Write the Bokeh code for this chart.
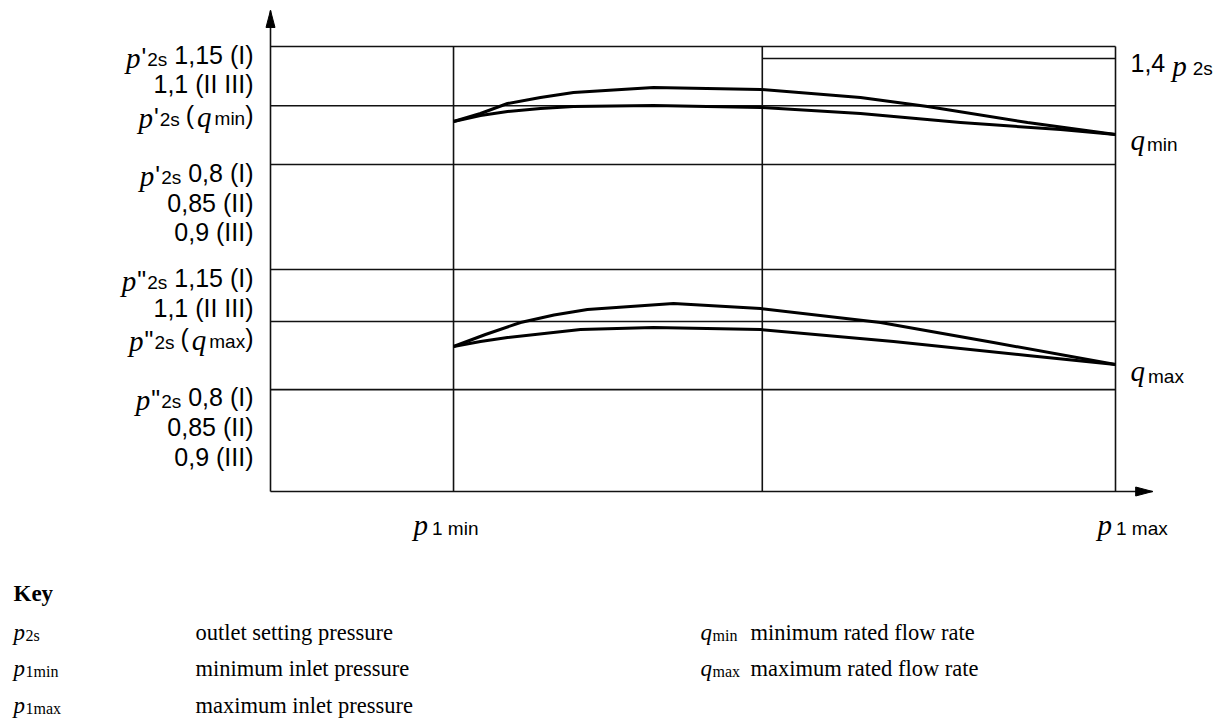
from bokeh.plotting import figure
from bokeh.models import Range1d
from bokeh.core.properties import value
from bokeh.embed import file_html
from bokeh.resources import INLINE

# ---------------- data (x: % of inlet-pressure span, y: relative outlet-pressure units) ----
p1_marks = [21.66, 58.2, 100.0]          # p1min, intermediate, p1max
axis_x_end = 104.4
axis_y_end = 108.1

level_names = ["p'2s 1,15", "1,4 p2s", "p'2s(qmin)", "p'2s 0,8", "p''2s 1,15", "p''2s(qmax)", "p''2s 0,8"]
level_values = [100.0, 97.3, 86.7, 73.5, 49.9, 38.2, 22.9]

qmin_upper_x = [21.66, 24.85, 28.05, 31.95, 35.86, 45.33, 57.99, 69.82, 77.75, 89.59, 100.0]
qmin_upper_y = [83.15, 84.95, 87.19, 88.54, 89.66, 90.79, 90.34, 88.54, 86.52, 82.92, 80.22]
qmin_lower_x = [21.66, 24.85, 28.05, 31.95, 35.86, 45.33, 57.99, 69.82, 81.66, 93.49, 100.0]
qmin_lower_y = [83.15, 84.49, 85.39, 86.07, 86.52, 86.74, 86.29, 84.94, 82.92, 81.35, 80.22]

qmax_upper_x = [21.66, 25.44, 29.59, 33.55, 37.51, 47.69, 57.99, 72.19, 85.56, 100.0]
qmax_upper_y = [32.58, 35.28, 37.98, 39.66, 40.90, 42.25, 41.12, 37.98, 33.48, 28.54]
qmax_lower_x = [21.66, 24.85, 28.05, 36.69, 45.33, 57.99, 73.73, 89.59, 100.0]
qmax_lower_y = [32.58, 33.71, 34.61, 36.40, 36.85, 36.40, 33.71, 30.56, 28.54]

# ---------------- layout ----------------
W, H = 1220, 722
X0, XS = 270.0, 8.45     # px of data x=0, px per unit
Y0, YS = 491.0, 4.45     # px of data y=0, px per unit


def px2x(px):
    return (px - X0) / XS


def py2y(py):
    return (Y0 - py) / YS


p = figure(width=W, height=H, output_backend="svg", toolbar_location=None,
           x_range=Range1d(px2x(0), px2x(W)), y_range=Range1d(py2y(H), py2y(0)),
           min_border=0, min_border_left=0, min_border_right=0,
           min_border_top=0, min_border_bottom=0)
p.axis.visible = False
p.grid.visible = False
p.outline_line_color = None
p.background_fill_color = "white"
p.border_fill_color = "white"

LC = "#111111"
# horizontal levels
for name, yv in zip(level_names, level_values):
    xs = p1_marks[1] if name == "1,4 p2s" else 0.0
    p.line([xs, p1_marks[2]], [yv, yv], line_color=LC, line_width=1.6)
# vertical lines
for xv in p1_marks:
    p.line([xv, xv], [0, level_values[0]], line_color=LC, line_width=1.6)

# axes
p.line([0, 0], [0, axis_y_end], line_color=LC, line_width=1.6)
p.line([0, axis_x_end], [0, 0], line_color=LC, line_width=1.6)
HL, HW = 17.0, 4.5
p.patch([0 - HW / XS, 0, 0 + HW / XS], [axis_y_end - HL / YS, axis_y_end, axis_y_end - HL / YS],
        fill_color="black", line_color="black")
p.patch([axis_x_end - HL / XS, axis_x_end, axis_x_end - HL / XS], [HW / YS, 0, -HW / YS],
        fill_color="black", line_color="black")

# curves
for cx, cy in [(qmin_upper_x, qmin_upper_y), (qmin_lower_x, qmin_lower_y),
               (qmax_upper_x, qmax_upper_y), (qmax_lower_x, qmax_lower_y)]:
    p.line(cx, cy, line_color="black", line_width=3.0, line_join="round")

# ---------------- text helpers ----------------
SANS_W = {'0': .556, '1': .556, '2': .556, '3': .556, '4': .556, '5': .556, '6': .556,
          '7': .556, '8': .556, '9': .556, ',': .278, ' ': .278, '(': .333, ')': .333,
          'I': .278, 'm': .833, 'i': .222, 'n': .556, 'a': .556, 'x': .5, 's': .5,
          "'": .191, '"': .355}
KINDS = {
    "num": ("Liberation Sans", 25, "normal"),
    "apo": ("Liberation Sans", 25, "normal"),
    "sub": ("Liberation Sans", 19, "normal"),
    "it": ("Liberation Serif", 29, "italic"),
}


def seg_width(txt, kind):
    font, size, style = KINDS[kind]
    if kind == "it":
        return 0.5 * size * len(txt)
    return sum(SANS_W.get(c, 0.55) for c in txt) * size


def put(xpx, ypx, txt, font, size, style="normal", align="left"):
    p.text(x=[px2x(xpx)], y=[py2y(ypx)], text=[txt], text_font=value(font),
           text_font_size=f"{size}px", text_font_style=style, text_align=align,
           text_baseline="alphabetic", text_color="black")


def right_label(segs, right_px, base_px):
    x = right_px
    for txt, kind, dy, gap in reversed(segs):
        font, size, style = KINDS[kind]
        put(x, base_px + dy, txt, font, size, style, align="right")
        x -= seg_width(txt, kind) + gap


def left_label(segs, left_px, base_px):
    x = left_px
    for txt, kind, dy, gap in segs:
        x += gap
        font, size, style = KINDS[kind]
        put(x, base_px + dy, txt, font, size, style, align="left")
        x += seg_width(txt, kind)


R = 253


def pref(mark):
    return [("p", "it", 3, 0), (mark, "apo", 2, 1), ("2s", "sub", 5, 1)]


# left labels: upper group (p') and lower group (p'')
right_label(pref("'") + [("1,15 (I)", "num", 0, 7)], R, 54)
right_label([("1,1 (II III)", "num", 0, 0)], R, 83)
right_label(pref("'") + [("(", "num", 0, 6), ("q", "it", 2, 3), ("min", "sub", 4, 3), (")", "num", 0, 0)], R, 114)
right_label(pref("'") + [("0,8 (I)", "num", 0, 7)], R, 172)
right_label([("0,85 (II)", "num", 0, 0)], R, 202)
right_label([("0,9 (III)", "num", 0, 0)], R, 231)

right_label(pref('"') + [("1,15 (I)", "num", 0, 7)], R, 277)
right_label([("1,1 (II III)", "num", 0, 0)], R, 307)
right_label(pref('"') + [("(", "num", 0, 6), ("q", "it", 2, 3), ("max", "sub", 4, 3), (")", "num", 0, 0)], R, 337)
right_label(pref('"') + [("0,8 (I)", "num", 0, 7)], R, 396)
right_label([("0,85 (II)", "num", 0, 0)], R, 426)
right_label([("0,9 (III)", "num", 0, 0)], R, 456)

# right labels
left_label([("1,4", "num", 0, 0), ("p", "it", 3, 7), ("2s", "sub", 6, 6)], 1130, 62)
left_label([("q", "it", 0, 0), ("min", "sub", 5, 2)], 1130, 139)
left_label([("q", "it", 0, 0), ("max", "sub", 6, 3)], 1130, 370)

# bottom labels
left_label([("p", "it", 0, 0), ("1 min", "sub", 4, 4)], 413, 524)
left_label([("p", "it", 0, 0), ("1 max", "sub", 4, 4)], 1097, 524)

# ---------------- key ----------------
KF = "Liberation Serif"
key_symbols = [("p", "2s"), ("p", "1min"), ("p", "1max"), ("q", "min"), ("q", "max")]
key_texts = ["outlet setting pressure", "minimum inlet pressure", "maximum inlet pressure",
             "minimum rated flow rate", "maximum rated flow rate"]
key_pos = [(13, 195, 632), (13, 195, 668), (13, 195, 705), (700, 750, 632), (700, 750, 668)]

put(13, 593, "Key", KF, 23, "bold")
for (sym, sub), txt, (xs, xt, yb) in zip(key_symbols, key_texts, key_pos):
    put(xs, yb, sym, KF, 23, "italic")
    put(xs + 12, yb + 3, sub, KF, 16, "normal")
    put(xt, yb, txt, KF, 22.5, "normal")

open("out.html", "w").write(file_html(p, INLINE))
